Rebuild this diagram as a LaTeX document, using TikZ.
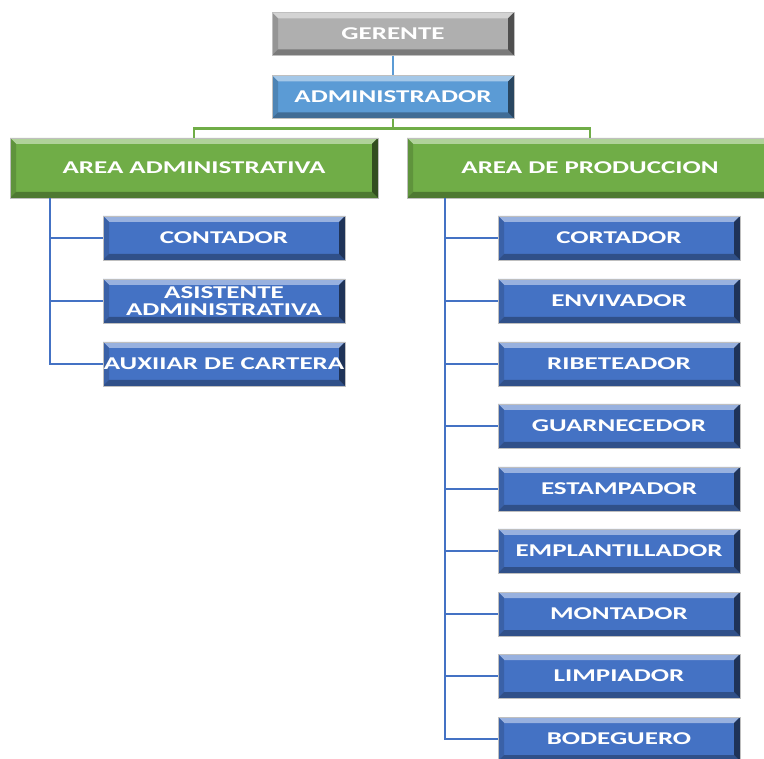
\documentclass[tikz,border=0pt]{standalone}
\usepackage{fontspec}
\setmainfont{Carlito}
\usepackage{graphicx}

\definecolor{gerentegray}{RGB}{175,175,175}
\definecolor{adminblue}{RGB}{91,155,213}
\definecolor{areagreen}{RGB}{112,173,71}
\definecolor{cargoblue}{RGB}{68,114,196}

\newcommand{\wide}[1]{\scalebox{1.5}[1]{#1}}

\tikzset{
  bevelbox/.style={fill=#1, draw=black!25, line width=0.5pt, inner sep=0pt,
    text=white, align=center,
    font=\fontsize{18pt}{17pt}\selectfont\bfseries,
    path picture={
      \fill[#1!55!white] (path picture bounding box.north west)
        -- (path picture bounding box.north east)
        -- ([shift={(-6pt,-6pt)}]path picture bounding box.north east)
        -- ([shift={(6pt,-6pt)}]path picture bounding box.north west) -- cycle;
      \fill[#1!85!black] (path picture bounding box.north west)
        -- ([shift={(6pt,-6pt)}]path picture bounding box.north west)
        -- ([shift={(6pt,6pt)}]path picture bounding box.south west)
        -- (path picture bounding box.south west) -- cycle;
      \fill[#1!70!black] (path picture bounding box.south west)
        -- ([shift={(6pt,6pt)}]path picture bounding box.south west)
        -- ([shift={(-6pt,6pt)}]path picture bounding box.south east)
        -- (path picture bounding box.south east) -- cycle;
      \fill[#1!45!black] (path picture bounding box.north east)
        -- ([shift={(-6pt,-6pt)}]path picture bounding box.north east)
        -- ([shift={(-6pt,6pt)}]path picture bounding box.south east)
        -- (path picture bounding box.south east) -- cycle;
    }},
  topbox/.style={bevelbox=#1, minimum width=242pt, minimum height=43pt},
  areabox/.style={bevelbox=areagreen, minimum width=367pt, minimum height=60pt},
  cargobox/.style={bevelbox=cargoblue, minimum width=242pt, minimum height=44pt},
  branch/.style={cargoblue, line width=2.5pt},
}

\begin{document}
\begin{tikzpicture}[x=1pt, y=-1pt]
	\useasboundingbox (0,0) rectangle (764,759);
	% jefes
	\node[topbox=gerentegray] (gerente) at (393,34) {\wide{GERENTE}};
	\node[topbox=adminblue] (admin) at (393,97) {\wide{ADMINISTRADOR}};
	% areas
	\node[areabox, minimum width=368pt] (areaadm) at (194,168) {\wide{AREA ADMINISTRATIVA}};
	\node[areabox, minimum width=366pt] (areaprod) at (590,168) {\wide{AREA DE PRODUCCION}};
	% area administrativa
	\node[cargobox] (contador) at (224,238) {\wide{CONTADOR}};
	\node[cargobox] (asistente) at (224,301) {\wide{ASISTENTE}\\\wide{ADMINISTRATIVA}};
	\node[cargobox] (auxiliar) at (224,364) {\wide{AUXIIAR DE CARTERA}};
	% area de produccion
	\node[cargobox] (cortador) at (619,238) {\wide{CORTADOR}};
	\node[cargobox] (envivador) at (619,301) {\wide{ENVIVADOR}};
	\node[cargobox] (ribeteador) at (619,364) {\wide{RIBETEADOR}};
	\node[cargobox] (guarnecedor) at (619,426) {\wide{GUARNECEDOR}};
	\node[cargobox] (estampador) at (619,489) {\wide{ESTAMPADOR}};
	\node[cargobox] (emplantillador) at (619,551) {\wide{EMPLANTILLADOR}};
	\node[cargobox] (montador) at (619,614) {\wide{MONTADOR}};
	\node[cargobox] (limpiador) at (619,676) {\wide{LIMPIADOR}};
	\node[cargobox] (bodeguero) at (619,739) {\wide{BODEGUERO}};
	% conectores
	\draw[adminblue, line width=2.5pt] (gerente.south) -- (admin.north);
	\coordinate (split) at ([yshift=-10pt]admin.south);
	\draw[areagreen, line width=2.5pt] (admin.south) -- (split) -| (areaadm.north);
	\draw[areagreen, line width=2.5pt] (split) -| (areaprod.north);
	\draw[branch] ([xshift=40pt]areaadm.south west) |- (contador.west);
	\draw[branch] ([xshift=40pt]areaadm.south west) |- (asistente.west);
	\draw[branch] ([xshift=40pt]areaadm.south west) |- (auxiliar.west);
	\draw[branch] ([xshift=38pt]areaprod.south west) |- (cortador.west);
	\draw[branch] ([xshift=38pt]areaprod.south west) |- (envivador.west);
	\draw[branch] ([xshift=38pt]areaprod.south west) |- (ribeteador.west);
	\draw[branch] ([xshift=38pt]areaprod.south west) |- (guarnecedor.west);
	\draw[branch] ([xshift=38pt]areaprod.south west) |- (estampador.west);
	\draw[branch] ([xshift=38pt]areaprod.south west) |- (emplantillador.west);
	\draw[branch] ([xshift=38pt]areaprod.south west) |- (montador.west);
	\draw[branch] ([xshift=38pt]areaprod.south west) |- (limpiador.west);
	\draw[branch] ([xshift=38pt]areaprod.south west) |- (bodeguero.west);
\end{tikzpicture}
\end{document}
